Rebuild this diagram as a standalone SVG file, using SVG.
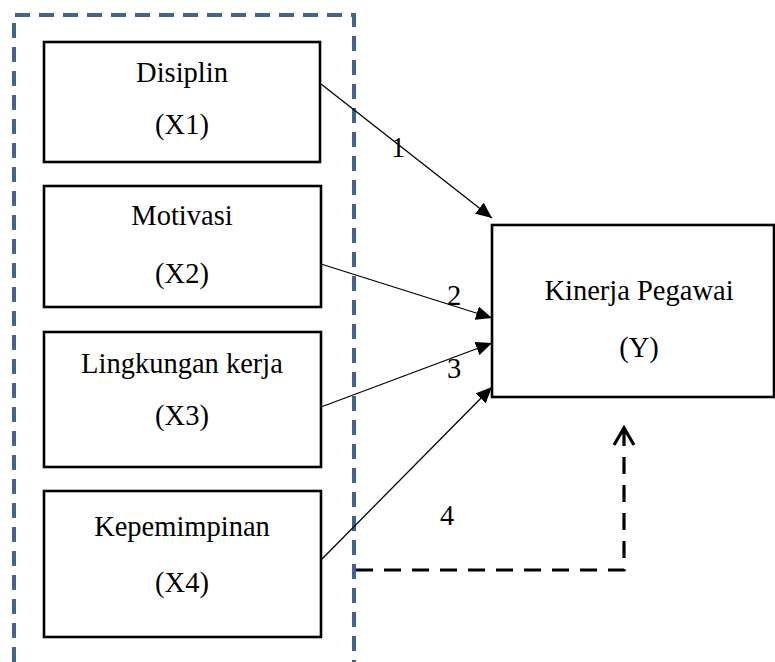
<svg xmlns="http://www.w3.org/2000/svg" width="775" height="662" viewBox="0 0 775 662">
<style>
.box{fill:#fff;stroke:#000;stroke-width:2.6}
.t{font-family:"Liberation Serif","Times New Roman",serif;font-size:28.5px;fill:#000;text-anchor:middle}
.lbl{font-family:"Liberation Serif","Times New Roman",serif;font-size:28.5px;fill:#000}
.arr{stroke:#000;stroke-width:1.3;fill:none}
</style>
<defs>
<marker id="ah" markerUnits="userSpaceOnUse" markerWidth="18" markerHeight="14" refX="16" refY="7" orient="auto">
<path d="M0,0 L16,7 L0,14 Z" fill="#000"/>
</marker>
</defs>
<g id="group-border">
<path d="M14,662 L14,15 L354,15 L354,662" fill="none" stroke="#41648F" stroke-width="4" stroke-dasharray="15 9"/>
</g>
<g id="x1">
<rect class="box" x="44" y="42" width="276" height="120"/>
<text class="t" x="182" y="82">Disiplin</text>
<text class="t" x="182" y="134">(X1)</text>
</g>
<g id="x2">
<rect class="box" x="44" y="186" width="277" height="121"/>
<text class="t" x="182" y="225">Motivasi</text>
<text class="t" x="182" y="283">(X2)</text>
</g>
<g id="x3">
<rect class="box" x="44" y="332" width="277" height="135"/>
<text class="t" x="182" y="373">Lingkungan kerja</text>
<text class="t" x="182" y="425">(X3)</text>
</g>
<g id="x4">
<rect class="box" x="44" y="491" width="277" height="146"/>
<text class="t" x="182" y="536">Kepemimpinan</text>
<text class="t" x="182" y="592">(X4)</text>
</g>
<g id="y">
<rect class="box" x="492" y="225" width="282" height="172"/>
<text class="t" x="639" y="300">Kinerja Pegawai</text>
<text class="t" x="639" y="357">(Y)</text>
</g>
<g id="connectors">
<line class="arr" x1="321" y1="84" x2="492" y2="218" marker-end="url(#ah)"/>
<line class="arr" x1="321" y1="264" x2="492" y2="318" marker-end="url(#ah)"/>
<line class="arr" x1="321" y1="407" x2="492" y2="343" marker-end="url(#ah)"/>
<line class="arr" x1="321" y1="560" x2="492" y2="387" marker-end="url(#ah)"/>
<path d="M356,570 L624,570 L624,430" fill="none" stroke="#000" stroke-width="3.2" stroke-dasharray="17 11"/>
<path d="M614,445 L624,428 L634,445" fill="none" stroke="#000" stroke-width="3.2"/>
<text class="lbl" x="391" y="157">1</text>
<text class="lbl" x="447" y="305">2</text>
<text class="lbl" x="447" y="378">3</text>
<text class="lbl" x="440" y="525">4</text>
</g>
</svg>
